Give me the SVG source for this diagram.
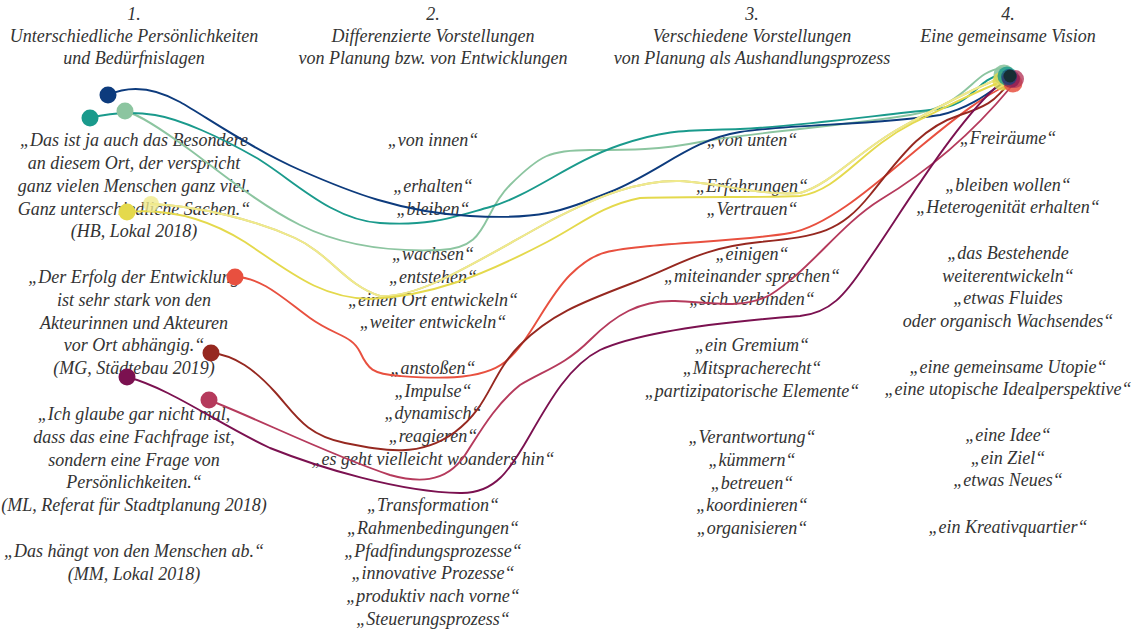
<svg xmlns="http://www.w3.org/2000/svg" width="1141" height="630" viewBox="0 0 1141 630">
<style>
text{font-family:"Liberation Serif","DejaVu Serif",serif;font-style:italic;font-size:18px;fill:#333;text-anchor:middle}
.c{fill:none;stroke-width:1.9;stroke-linecap:round}
</style>
<rect width="1141" height="630" fill="#fff"/>
<g id="column-1">
<text x="134"><tspan x="134" y="20">1.</tspan><tspan x="134" y="42">Unterschiedliche Persönlichkeiten</tspan><tspan x="134" y="64">und Bedürfnislagen</tspan></text>
<text><tspan x="134" y="146">„Das ist ja auch das Besondere</tspan><tspan x="134" y="169">an diesem Ort, der verspricht</tspan><tspan x="134" y="192">ganz vielen Menschen ganz viel.</tspan><tspan x="134" y="215">Ganz unterschiedliche Sachen.“</tspan><tspan x="134" y="237">(HB, Lokal 2018)</tspan></text>
<text><tspan x="134" y="283">„Der Erfolg der Entwicklung</tspan><tspan x="134" y="306">ist sehr stark von den</tspan><tspan x="134" y="329">Akteurinnen und Akteuren</tspan><tspan x="134" y="351">vor Ort abhängig.“</tspan><tspan x="134" y="374">(MG, Städtebau 2019)</tspan></text>
<text><tspan x="134" y="420">„Ich glaube gar nicht mal,</tspan><tspan x="134" y="443">dass das eine Fachfrage ist,</tspan><tspan x="134" y="466">sondern eine Frage von</tspan><tspan x="134" y="488">Persönlichkeiten.“</tspan><tspan x="134" y="511">(ML, Referat für Stadtplanung 2018)</tspan></text>
<text><tspan x="134" y="557">„Das hängt von den Menschen ab.“</tspan><tspan x="134" y="580">(MM, Lokal 2018)</tspan></text>
</g>
<g id="column-2">
<text><tspan x="433" y="20">2.</tspan><tspan x="433" y="42">Differenzierte Vorstellungen</tspan><tspan x="433" y="64">von Planung bzw. von Entwicklungen</tspan></text>
<text><tspan x="433" y="146">„von innen“</tspan><tspan x="433" y="192">„erhalten“</tspan><tspan x="433" y="215">„bleiben“</tspan><tspan x="433" y="260">„wachsen“</tspan><tspan x="433" y="283">„entstehen“</tspan><tspan x="433" y="306">„einen Ort entwickeln“</tspan><tspan x="433" y="328">„weiter entwickeln“</tspan><tspan x="433" y="374">„anstoßen“</tspan><tspan x="433" y="397">„Impulse“</tspan><tspan x="433" y="419">„dynamisch“</tspan><tspan x="433" y="442">„reagieren“</tspan><tspan x="433" y="465">„es geht vielleicht woanders hin“</tspan><tspan x="433" y="511">„Transformation“</tspan><tspan x="433" y="534">„Rahmenbedingungen“</tspan><tspan x="433" y="557">„Pfadfindungsprozesse“</tspan><tspan x="433" y="579">„innovative Prozesse“</tspan><tspan x="433" y="602">„produktiv nach vorne“</tspan><tspan x="433" y="625">„Steuerungsprozess“</tspan></text>
</g>
<g id="column-3">
<text><tspan x="752" y="20">3.</tspan><tspan x="752" y="42">Verschiedene Vorstellungen</tspan><tspan x="752" y="64">von Planung als Aushandlungsprozess</tspan></text>
<text><tspan x="752" y="146">„von unten“</tspan><tspan x="752" y="192">„Erfahrungen“</tspan><tspan x="752" y="215">„Vertrauen“</tspan><tspan x="752" y="260">„einigen“</tspan><tspan x="752" y="282">„miteinander sprechen“</tspan><tspan x="752" y="305">„sich verbinden“</tspan><tspan x="752" y="351">„ein Gremium“</tspan><tspan x="752" y="374">„Mitspracherecht“</tspan><tspan x="752" y="397">„partizipatorische Elemente“</tspan><tspan x="752" y="443">„Verantwortung“</tspan><tspan x="752" y="466">„kümmern“</tspan><tspan x="752" y="489">„betreuen“</tspan><tspan x="752" y="511">„koordinieren“</tspan><tspan x="752" y="534">„organisieren“</tspan></text>
</g>
<g id="column-4">
<text><tspan x="1008" y="20">4.</tspan><tspan x="1008" y="42">Eine gemeinsame Vision</tspan></text>
<text><tspan x="1008" y="144">„Freiräume“</tspan><tspan x="1008" y="191">„bleiben wollen“</tspan><tspan x="1008" y="213">„Heterogenität erhalten“</tspan><tspan x="1008" y="259">„das Bestehende</tspan><tspan x="1008" y="282">weiterentwickeln“</tspan><tspan x="1008" y="304">„etwas Fluides</tspan><tspan x="1008" y="327">oder organisch Wachsendes“</tspan><tspan x="1008" y="373">„eine gemeinsame Utopie“</tspan><tspan x="1008" y="395">„eine utopische Idealperspektive“</tspan><tspan x="1008" y="441">„eine Idee“</tspan><tspan x="1008" y="464">„ein Ziel“</tspan><tspan x="1008" y="486">„etwas Neues“</tspan><tspan x="1008" y="533">„ein Kreativquartier“</tspan></text>
</g>
<g id="connectors">
<path class="c" stroke="#8cc5a0" d="M125,111 C140,115 160,128 190,150 S260,205 300,225 S390,252 440,250 S480,215 510,185 S550,150 590,150 S660,150 700,142 S850,125 910,115 C970,105 970,72 1002,68"/>
<path class="c" stroke="#1a9a8c" d="M90,118 C110,113 130,111 155,115 S220,137 255,157 S330,220 380,223 S450,218 490,207 S570,162 620,145 S690,131 740,129 S880,115 930,110 C975,106 975,80 1000,75"/>
<path class="c" stroke="#0d3b7d" d="M108,95 C130,85 155,88 180,102 S250,148 300,170 S400,212 470,216 S560,212 610,192 S690,140 740,132 S880,125 940,115 C970,108 990,92 1004,82"/>
<path class="c" stroke="#c9c070" stroke-width="2.6" d="M151,204 C200,206 255,220 295,238 C330,254 345,285 380,296 C420,298 470,265 550,221 C600,195 640,180 680,181 C720,183 760,196 800,193 C830,185 860,150 900,128 C940,106 970,90 996,80"/>
<path class="c" stroke="#f0ea8c" stroke-width="1.8" d="M151,204 C200,206 255,220 295,238 C330,254 345,285 380,296 C420,298 470,265 550,221 C600,195 640,180 680,181 C720,183 760,196 800,193 C830,185 860,150 900,128 C940,106 970,90 996,80"/>
<path class="c" stroke="#e4d94c" stroke-width="2.2" d="M127,212 C170,208 210,220 245,242 C290,272 320,298 370,299 C430,296 480,277 547,242 C580,225 600,206 640,198 C700,196 760,198 800,196 C840,190 860,150 913,123 C950,105 975,92 996,84"/>
<path class="c" stroke="#e8503f" d="M235,277 C262,277 285,300 310,318 S352,335 360,352 S372,374 400,376 S480,382 505,362 S545,300 570,275 S610,250 650,246 S750,240 790,233 S880,180 920,147 S985,95 1008,85"/>
<path class="c" stroke="#962820" d="M211,353 C235,355 255,370 275,392 S305,435 345,443 S420,458 455,432 S490,375 520,345 S580,303 630,284 S700,248 760,242 S840,232 870,195 S920,128 960,115 S995,95 1008,86"/>
<path class="c" stroke="#b53a5c" d="M209,400 C260,420 330,455 390,475 C415,482 445,485 465,455 C480,432 495,405 520,385 C545,370 565,365 590,340 C615,315 640,300 675,301 C710,302 740,310 770,295 C810,270 840,225 880,200 C930,170 975,130 1010,88"/>
<path class="c" stroke="#7b1150" d="M127,377 C170,388 220,425 270,448 C320,468 400,492 460,493 C495,494 510,470 530,435 C550,400 570,365 600,350 C640,332 720,322 800,316 C830,313 845,295 865,265 C900,215 950,130 995,88"/>
</g>
<g id="node-blue"><circle cx="108" cy="95" r="8.5" fill="#0d3b7d"/></g>
<g id="node-teal"><circle cx="90" cy="118" r="8.5" fill="#1a9a8c"/></g>
<g id="node-green"><circle cx="125" cy="111" r="8.5" fill="#8cc5a0"/></g>
<g id="node-yellow-1"><circle cx="127" cy="212" r="8.5" fill="#e4d94c"/></g>
<g id="node-yellow-2"><circle cx="151" cy="204" r="8" fill="#f0ea8c" opacity="0.8"/></g>
<g id="node-orange"><circle cx="235" cy="277" r="8.5" fill="#e8503f"/></g>
<g id="node-darkred"><circle cx="211" cy="353" r="8.5" fill="#962820"/></g>
<g id="node-purple"><circle cx="127" cy="377" r="8.5" fill="#7b1150"/></g>
<g id="node-pink"><circle cx="209" cy="400" r="8.5" fill="#b53a5c"/></g>
<g id="node-vision">
<circle cx="1004" cy="75" r="10.5" fill="#8cc5a0" opacity="0.9"/>
<circle cx="1002" cy="81" r="9.5" fill="#e4d94c" opacity="0.8"/>
<circle cx="1013" cy="83" r="9.5" fill="#e8503f" opacity="0.85"/>
<circle cx="1015" cy="79" r="9" fill="#b53a5c" opacity="0.8"/>
<circle cx="1007" cy="76" r="9.5" fill="#1a9a8c" opacity="0.8"/>
<circle cx="1011" cy="79" r="9" fill="#7b1150" opacity="0.6"/>
<circle cx="1009" cy="77" r="8" fill="#0d3b7d" opacity="0.6"/>
<circle cx="1010" cy="76" r="6.5" fill="#132a28" opacity="0.85"/>
</g>
</svg>
